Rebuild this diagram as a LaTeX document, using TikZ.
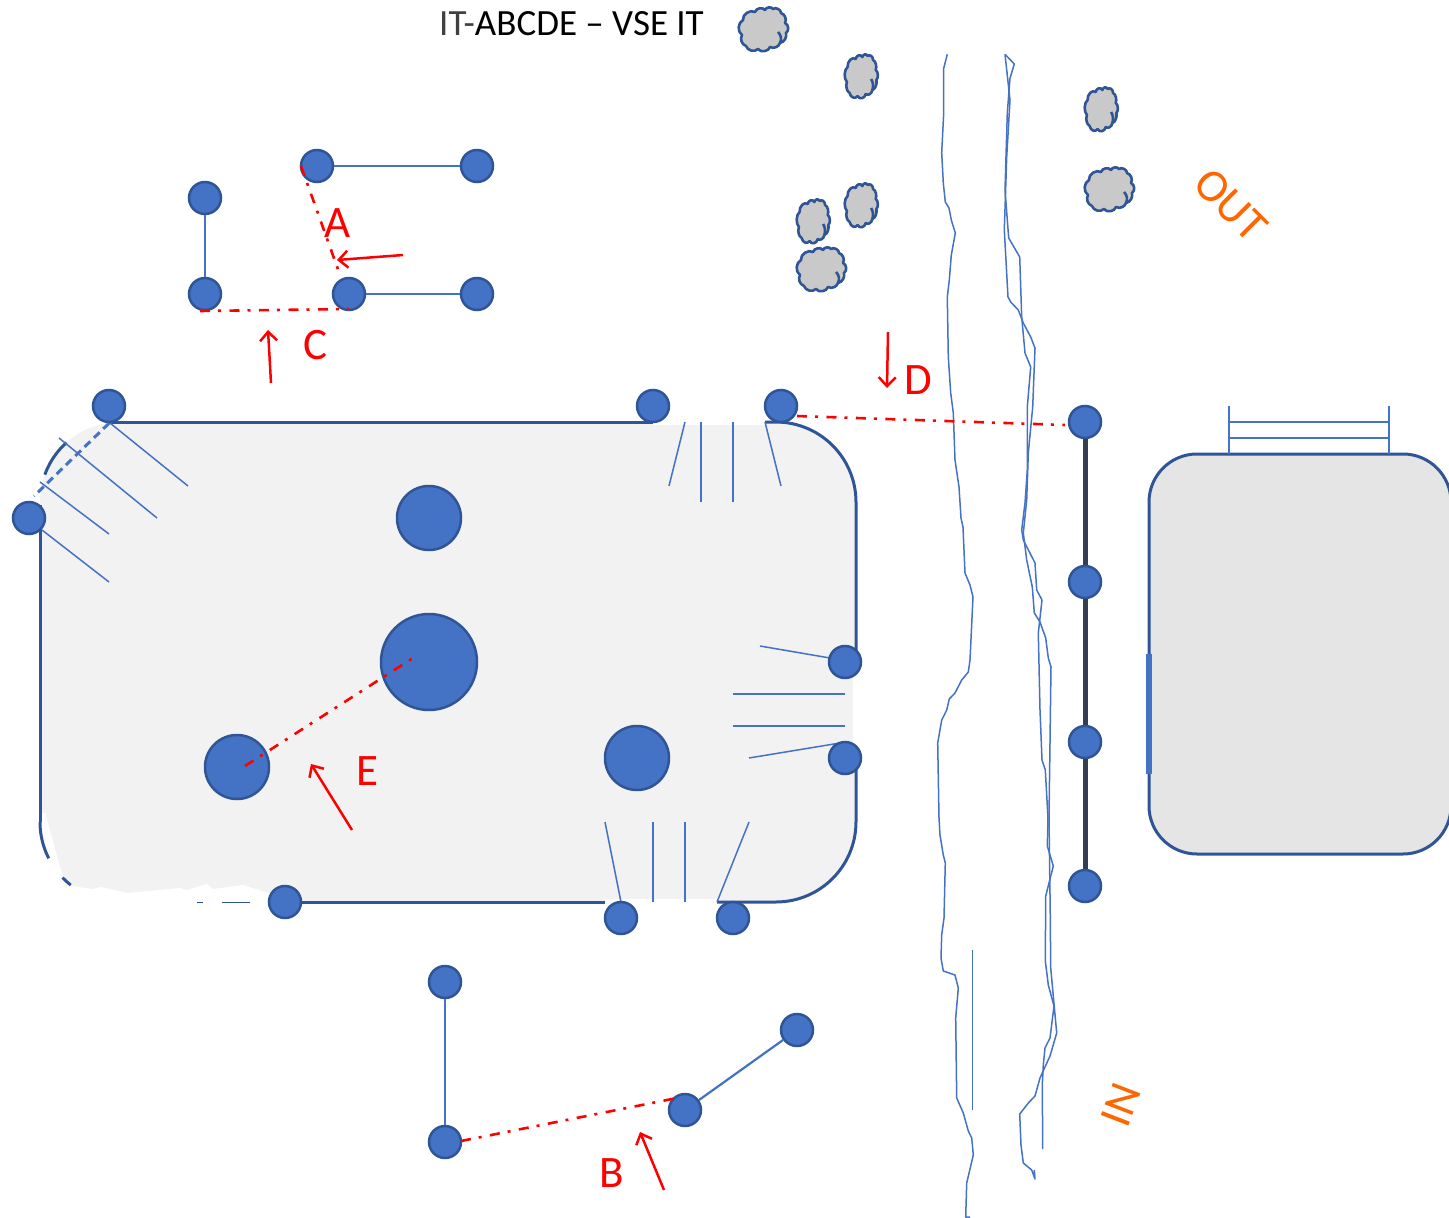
\documentclass[tikz,border=0pt]{standalone}
\usepackage{fontspec}
\setmainfont{Carlito}
\usetikzlibrary{arrows.meta}
\definecolor{dotfill}{HTML}{4472C4}
\definecolor{dotline}{HTML}{2F5597}
\definecolor{roomfill}{HTML}{F2F2F2}
\definecolor{carfill}{HTML}{E5E5E5}
\definecolor{rubble}{HTML}{C9C9C9}
\definecolor{railcol}{HTML}{333F50}
\definecolor{sidecol}{HTML}{FF6600}
\newcommand{\rockat}[3]{%
 \begin{scope}[shift={(#1,#2)},xscale=#3]
 \draw[rock] (-20,-10) to[bend left=65] (-8,-18) to[bend left=65] (2,-20) to[bend left=65] (10,-21) to[bend left=65] (18,-17) to[bend left=50] (22,-7) to[bend left=65] (23,3) to[bend left=45] (17,13) to[bend left=50] (7,17) to[bend left=65] (-5,19) to[bend left=60] (-17,16) to[bend left=50] (-21,5) to[bend left=60] cycle;
 \draw[rockedge] (15,2) to[bend left=35] (17,13);
 \end{scope}}
\tikzset{
 dot/.style={circle,draw=dotline,fill=dotfill,line width=2.5pt,inner sep=0pt,minimum size=32pt},
 bigdot/.style={dot,minimum size=64pt},
 hugedot/.style={dot,minimum size=96pt},
 link/.style={draw=dotfill,line width=2.2pt},
 rail/.style={draw=railcol,line width=5pt},
 thin line/.style={draw=dotfill,line width=1.5pt},
 river/.style={draw=dotfill,line width=1.5pt,line join=round},
 outline/.style={draw=dotline,line width=3pt},
 gauge/.style={draw=red,line width=2.6pt,dash pattern=on 10pt off 8pt on 3pt off 8.5pt},
 pointer/.style={draw=red,line width=2.5pt,-{Straight Barb[length=9pt,width=17pt,line width=2.5pt]}},
 gaugename/.style={text=red,font=\fontsize{45}{45}\selectfont,inner sep=0pt},
 sidename/.style={text=sidecol,font=\fontsize{46}{46}\selectfont,inner sep=0pt},
 rock/.style={draw=dotline,fill=rubble,line width=2.6pt,line join=round},
 rockedge/.style={draw=dotline,line width=2.6pt},
}
\begin{document}
\begin{tikzpicture}[x=1pt,y=-1pt]
\useasboundingbox (0,0) rectangle (1449,1218);
% room body
\fill[roomfill,rounded corners=80pt] (40,422) rectangle (856,902);
\fill[white] (653,419) rectangle (765,425);
\fill[white] (605,899) rectangle (717,905);
\fill[white] (853,662) rectangle (859,758);
\fill[white] (45,813) -- (63,877) -- (72,886) -- (92,889) -- (101,887) -- (127,893) -- (180,888) -- (187,890) -- (207,884) -- (213,889) -- (243,885) -- (268,893) -- (285,902) -- (285,910) -- (30,910) -- (30,813) -- cycle;
% room outline
\draw[outline] (108,422) -- (653,422);
\draw[outline] (765,422) -- (776,422) plot[smooth,domain=0:90,samples=16] ({776+80*sin(\x)},{502-80*cos(\x)}) -- (856,662);
\draw[outline] (856,758) -- (856,822) plot[smooth,domain=0:90,samples=16] ({856-80*(1-cos(\x))},{822+80*sin(\x)}) -- (717,902);
\draw[outline] (285,902) -- (605,902);
\draw[outline] (40,505) -- (40,822);
\draw[outline] plot[smooth,domain=20:48,samples=8] ({120-80*cos(\x)},{502-80*sin(\x)});
\draw[outline] plot[smooth,domain=0:27,samples=8] ({120-80*cos(\x)},{822+80*sin(\x)});
\draw[outline] plot[smooth,domain=44:52,samples=4] ({120-80*cos(\x)},{822+80*sin(\x)});
\draw[dotline,line width=1.5pt] (197,902.5) -- (203,902.5);
\draw[dotline,line width=1.5pt] (222,902.5) -- (250,902.5);
% hatch lines
\foreach \ax/\ay/\bx/\by in {110/423/188/486,59/438/157/518,40/482/109/534,42/530/109/582,
 685/422/669/486,701/422/701/502,733/422/733/502,765/422/781/486,
 760/646/830/658,733/694/845/694,733/726/845/726,749/758/840/743,
 605/822/621/902,653/822/653/902,685/822/685/902,749/822/717/902}
 {\draw[thin line] (\ax,\ay) -- (\bx,\by);}
% carriage
\draw[outline,fill=carfill,rounded corners=48pt] (1149,454) rectangle (1451,854);
\draw[dotfill,line width=6pt] (1149,654) -- (1149,774);
\draw[thin line] (1229,406) -- (1229,454);
\draw[thin line] (1389,406) -- (1389,454);
\draw[thin line] (1229,422) -- (1389,422);
\draw[thin line] (1229,438) -- (1389,438);
% rivers
\draw[river] (947.3,54.3) -- (943.7,68.3) -- (943.7,113) -- (941.7,153) -- (943.3,183) -- (945.3,202) -- (949,208) -- (951.3,220) -- (955.3,233) -- (951.3,255) -- (949.3,280) -- (947.3,297) -- (948.3,357) -- (950.7,393) -- (953.3,413) -- (955,460) -- (959,487) -- (961,518) -- (963,527) -- (965,573) -- (970,585) -- (973,597) -- (970,660) -- (968.3,672) -- (961.7,680) -- (955,693) -- (949.3,699) -- (946.7,710) -- (941.7,720) -- (937.7,743) -- (939,818) -- (940,835) -- (943.3,855) -- (945.3,863) -- (944,918) -- (941.7,935) -- (941,958) -- (943.3,971) -- (955,975) -- (958.3,988) -- (955.7,1018) -- (956.7,1098) -- (963.3,1113) -- (968.3,1131) -- (971.7,1138) -- (973.3,1155) -- (966.7,1183) -- (965.7,1217) -- (970,1217);
\draw[river] (1005,54.3) -- (1014.3,64) -- (1010,78.3) -- (1007.3,113) -- (1005,190) -- (1008.7,238) -- (1019.7,257) -- (1021.7,317) -- (1025,353) -- (1030.7,367) -- (1027.3,407) -- (1027.3,470) -- (1025,503) -- (1021.7,530) -- (1023.3,540) -- (1035,563) -- (1036.7,590) -- (1042,600) -- (1038.3,633) -- (1040,710) -- (1042,760) -- (1045.3,770) -- (1048,818) -- (1047.3,846) -- (1053.3,866) -- (1045.7,896) -- (1045.3,961) -- (1048.3,985) -- (1054,1006) -- (1050,1038) -- (1045,1048) -- (1043.3,1065) -- (1042.3,1085) -- (1042.7,1149);
\draw[river] (1005,54.3) -- (1010,100) -- (1006.7,157) -- (1004.3,230) -- (1008,297) -- (1010.7,302) -- (1018.3,310) -- (1023.3,323) -- (1030.7,337) -- (1035,348) -- (1032.7,407) -- (1028.3,453) -- (1026.7,500) -- (1023.3,533) -- (1026.7,560) -- (1032.3,587) -- (1034.3,613) -- (1040,622) -- (1045.7,638) -- (1048.3,658) -- (1051,667) -- (1049,818) -- (1050.3,918) -- (1050.7,968) -- (1056.7,1033) -- (1050,1056) -- (1040,1078) -- (1035,1096) -- (1028.3,1103) -- (1019.7,1114) -- (1021,1145) -- (1023.3,1163) -- (1031.7,1170) -- (1035,1179) -- (1034.3,1170);
\draw[river] (972.7,950) -- (972.7,1110);
% rocks
\rockat{763}{30}{1}
\rockat{861}{77}{0.67}
\rockat{1101}{110}{0.67}
\rockat{1109}{190}{1}
\rockat{861}{206}{0.67}
\rockat{813}{222}{0.67}
\rockat{821}{270}{1}
% dots
\node[dot] (a1) at (317,166) {};
\node[dot] (a2) at (477,166) {};
\node[dot] (c1) at (205,198) {};
\node[dot] (c2) at (205,294) {};
\node[dot] (a3) at (349,294) {};
\node[dot] (a4) at (477,294) {};
\node[dot] (t1) at (109,406) {};
\node[dot] (t2) at (653,406) {};
\node[dot] (t3) at (781,406) {};
\node[dot] (l1) at (29,518) {};
\node[dot] (s1) at (845,662) {};
\node[dot] (s2) at (845,758) {};
\node[dot] (b1) at (621,918) {};
\node[dot] (b2) at (733,918) {};
\node[dot] (b3) at (285,902) {};
\node[dot] (d1) at (1085,422) {};
\node[dot] (d2) at (1085,582) {};
\node[dot] (d3) at (1085,742) {};
\node[dot] (d4) at (1085,886) {};
\node[dot] (f1) at (445,982) {};
\node[dot] (f2) at (445,1142) {};
\node[dot] (g1) at (685,1110) {};
\node[dot] (g2) at (797,1030) {};
\node[bigdot] (m1) at (429,518) {};
\node[hugedot] (m2) at (429,662) {};
\node[bigdot] (m3) at (237,767) {};
\node[bigdot] (m4) at (637,758) {};
% connectors
\draw[link] (a1) -- (a2);
\draw[link] (c1) -- (c2);
\draw[link] (a3) -- (a4);
\draw[link] (f1) -- (f2);
\draw[link] (g1) -- (g2);
\draw[rail] (d1) -- (d2);
\draw[rail] (d2) -- (d3);
\draw[rail] (d3) -- (d4);
\draw[dotfill,line width=3pt,dash pattern=on 8pt off 5pt] (t1.south) -- (34,496);
% gauges
\coordinate (ga1) at (301,166); \coordinate (ga2) at (340,275);
\draw[gauge] (ga1) -- (ga2);
\coordinate (gb1) at (461,1141); \coordinate (gb2) at (677,1098);
\draw[gauge] (gb1) -- (gb2);
\coordinate (gc1) at (200,311); \coordinate (gc2) at (349,309);
\draw[gauge] (gc1) -- (gc2);
\coordinate (gd1) at (797,416); \coordinate (gd2) at (1065,425);
\draw[gauge] (gd1) -- (gd2);
\coordinate (ge1) at (245,766); \coordinate (ge2) at (413,658);
\draw[gauge] (ge1) -- (ge2);
% pointers
\coordinate (pa1) at (403,255); \coordinate (pa2) at (337,260);
\draw[pointer] (pa1) -- (pa2);
\coordinate (pc1) at (271,383); \coordinate (pc2) at (268,330);
\draw[pointer] (pc1) -- (pc2);
\coordinate (pd1) at (888,332); \coordinate (pd2) at (887,388);
\draw[pointer] (pd1) -- (pd2);
\coordinate (pe1) at (352,830); \coordinate (pe2) at (311,764);
\draw[pointer] (pe1) -- (pe2);
\coordinate (pb1) at (664,1190); \coordinate (pb2) at (640,1132);
\draw[pointer] (pb1) -- (pb2);
% labels
\node[gaugename] (la) at (338,223) {A};
\node[gaugename] (lb) at (612,1173) {B};
\node[gaugename] (lc) at (315,345) {C};
\node[gaugename] (ld) at (918,380) {D};
\node[gaugename] (le) at (367,771) {E};
\node[sidename,rotate=-45] (lout) at (1231,205) {OUT};
\node[sidename,rotate=69] (lin) at (1121,1105) {IN};
\node[inner sep=0pt,anchor=west,font=\fontsize{37}{37}\selectfont] (title) at (439,24) {\textcolor{black!75}{IT-}ABCDE – VSE IT};
\end{tikzpicture}
\end{document}
